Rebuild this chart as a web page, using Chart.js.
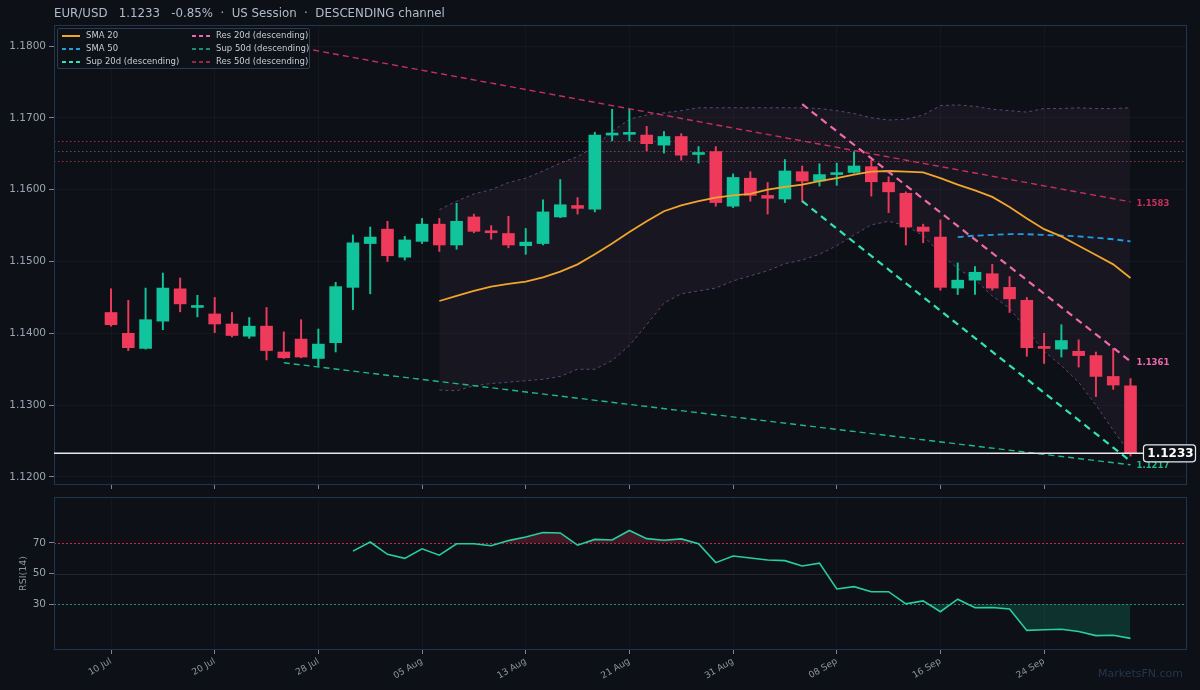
<!DOCTYPE html>
<html>
<head>
<meta charset="utf-8">
<script src="https://cdn.jsdelivr.net/npm/chart.js@4.4.1/dist/chart.umd.min.js"></script>
<style>
  body { margin: 0; background: #0d1017; font-family: "DejaVu Sans", sans-serif; }
  #wrap { position: relative; width: 1200px; height: 690px; overflow: hidden; background: #0d1017; }
  #main { position: absolute; left: 0; top: 0; }
  #rsi { position: absolute; left: 0; top: 492px; }
  #title { position: absolute; left: 54px; top: 6px; font-size: 11.8px; color: #b0bccb; white-space: pre; }
  #legend { position: absolute; left: 57px; top: 28px; width: 251px; height: 39px; background: rgba(13,18,26,0.92);
            border: 1px solid #2a3b50; border-radius: 2px; display: grid; grid-template-columns: 130px 1fr;
            font-size: 8.5px; line-height: 13px; color: #c4ccd6; white-space: nowrap; }
  #legend .li { display: flex; align-items: center; padding-left: 4px; }
  #legend svg { margin-right: 6px; flex: none; }
  #wm { position: absolute; right: 17px; top: 667px; font-size: 11px; color: #24364c; }
</style>
</head>
<body>
<div id="wrap">
  <canvas id="main" width="1200" height="492"></canvas>
  <canvas id="rsi" width="1200" height="198"></canvas>
  <div id="title">EUR/USD   1.1233   -0.85%  ·  US Session  ·  DESCENDING channel</div>
  <div id="legend"></div>
  <div id="wm">MarketsFN.com</div>
</div>
<script>
// --- Données ---
const firstDay = new Date(2020, 6, 10);
const nbCandles = 60;
const monthNames = ['Jan','Feb','Mar','Apr','May','Jun','Jul','Aug','Sep','Oct','Nov','Dec'];

const openP = [1.1429,1.1400,1.1379,1.1417,1.1462,1.1436,1.1427,1.1413,1.1396,1.1410,
               1.1374,1.1392,1.1365,1.1387,1.1464,1.1525,1.1545,1.1506,1.1528,1.1552,
               1.1523,1.1562,1.1542,1.1539,1.1522,1.1525,1.1562,1.1578,1.1573,1.1676,
               1.1677,1.1676,1.1662,1.1674,1.1649,1.1653,1.1577,1.1616,1.1592,1.1587,
               1.1625,1.1612,1.1621,1.1624,1.1632,1.1610,1.1595,1.1548,1.1534,1.1463,
               1.1474,1.1483,1.1464,1.1446,1.1381,1.1378,1.1375,1.1369,1.1340,1.1327];
const highP = [1.1462,1.1446,1.1463,1.1484,1.1477,1.1453,1.1450,1.1429,1.1422,1.1436,
               1.1402,1.1419,1.1406,1.1471,1.1537,1.1548,1.1556,1.1535,1.1560,1.1560,
               1.1581,1.1566,1.1550,1.1563,1.1546,1.1586,1.1614,1.1589,1.1680,1.1712,
               1.1712,1.1688,1.1681,1.1678,1.1660,1.1660,1.1622,1.1625,1.1610,1.1642,
               1.1633,1.1636,1.1637,1.1653,1.1641,1.1618,1.1597,1.1552,1.1558,1.1498,
               1.1493,1.1496,1.1479,1.1450,1.1400,1.1412,1.1391,1.1374,1.1379,1.1337];
const lowP  = [1.1410,1.1376,1.1378,1.1405,1.1430,1.1423,1.1401,1.1395,1.1393,1.1363,
               1.1365,1.1366,1.1354,1.1374,1.1433,1.1455,1.1500,1.1502,1.1525,1.1514,
               1.1517,1.1540,1.1531,1.1519,1.1510,1.1523,1.1561,1.1566,1.1569,1.1668,
               1.1668,1.1654,1.1651,1.1641,1.1637,1.1577,1.1575,1.1584,1.1566,1.1582,
               1.1583,1.1605,1.1606,1.1623,1.1591,1.1568,1.1523,1.1526,1.1460,1.1454,
               1.1454,1.1460,1.1429,1.1368,1.1358,1.1367,1.1353,1.1312,1.1322,1.1229];
const closeP = [1.1412,1.1380,1.1419,1.1463,1.1441,1.1438,1.1413,1.1397,1.1410,1.1376,
                1.1366,1.1367,1.1385,1.1465,1.1526,1.1534,1.1508,1.1530,1.1552,1.1523,
                1.1556,1.1542,1.1540,1.1523,1.1527,1.1569,1.1579,1.1574,1.1676,1.1678,
                1.1679,1.1664,1.1674,1.1648,1.1651,1.1582,1.1617,1.1592,1.1588,1.1626,
                1.1612,1.1621,1.1623,1.1633,1.1611,1.1597,1.1548,1.1542,1.1464,1.1474,
                1.1485,1.1463,1.1448,1.1380,1.1379,1.1390,1.1369,1.1340,1.1328,1.1233];

// moyennes mobiles et bandes (début = index de la première valeur)
const sma20Start = 19;
const sma20 = [1.1445,1.1452,1.1459,1.1465,1.1469,1.1472,1.1478,1.1486,1.1496,1.1510,
               1.1525,1.1541,1.1556,1.1570,1.1578,1.1584,1.1589,1.1592,1.1594,1.1600,
               1.1604,1.1607,1.1612,1.1616,1.1621,1.1625,1.1626,1.1625,1.1624,1.1616,
               1.1607,1.1599,1.1590,1.1576,1.1560,1.1545,1.1535,1.1522,1.1509,1.1496,1.1477];
const sma50Start = 49;
const sma50 = [1.1534,1.1536,1.1537,1.1538,1.1538,1.1537,1.1536,1.1535,1.1533,1.1531,1.1528];
const bbStart = 19;
const bbUpper = [1.1572,1.1584,1.1594,1.1600,1.1610,1.1616,1.1626,1.1637,1.1646,1.1660,
                 1.1681,1.1698,1.1704,1.1707,1.1710,1.1714,1.1714,1.1714,1.1714,1.1714,
                 1.1714,1.1714,1.1713,1.1710,1.1706,1.1700,1.1697,1.1698,1.1704,1.1717,
                 1.1718,1.1716,1.1712,1.1710,1.1708,1.1713,1.1713,1.1714,1.1713,1.1713,1.1714];
const bbLower = [1.1321,1.1320,1.1327,1.1330,1.1332,1.1334,1.1336,1.1340,1.1350,1.1350,
                 1.1362,1.1383,1.1412,1.1442,1.1455,1.1459,1.1463,1.1473,1.1480,1.1487,
                 1.1497,1.1502,1.1510,1.1522,1.1537,1.1551,1.1556,1.1550,1.1536,1.1511,
                 1.1490,1.1475,1.1452,1.1435,1.1405,1.1375,1.1355,1.1332,1.1300,1.1265,1.1232];

// lignes de canal
const chNames  = ['Res 50d (descending)', 'Sup 50d (descending)', 'Res 20d (descending)', 'Sup 20d (descending)'];
const chFromX  = [10, 10, 40, 40];
const chToX    = [59, 59, 59, 59];
const chFromY  = [1.1802, 1.1359, 1.1719, 1.1584];
const chToY    = [1.1583, 1.1217, 1.1361, 1.1222];
const chColors = ['#c5305f', '#1db985', '#f06aab', '#2fe3b5'];
const chWidths = [1.4, 1.4, 2.2, 2.2];
const chDash   = [[6, 4], [6, 4], [7, 5], [7, 5]];
const chLabel  = [true, true, true, false];

// niveaux horizontaux en pointillés
const levels = [1.1668, 1.1654, 1.1640];
const levelColors = ['rgba(200,70,85,0.7)', 'rgba(180,110,100,0.6)', 'rgba(200,70,85,0.7)'];
const lastPrice = 1.1233;

// RSI
const rsiStart = 14;
const rsi = [64.6,70.6,62.5,59.9,66.1,62.0,69.4,69.4,68.1,71.5,73.9,76.8,76.5,68.5,72.3,
             71.9,78.1,72.8,71.7,72.6,69.4,57.1,61.4,60.1,58.8,58.4,54.9,56.8,39.9,41.4,
             38.1,38.1,30.2,32.1,25.0,33.2,27.6,27.8,26.8,12.8,13.2,13.6,12.1,9.4,9.6,7.6];
const rsiLevels = [70, 50, 30];
const rsiLevelColors = ['rgba(225,55,80,0.8)', 'rgba(255,255,255,0.09)', 'rgba(32,190,150,0.75)'];

// ticks
const yTicks = [1.12, 1.13, 1.14, 1.15, 1.16, 1.17, 1.18];
const rsiTicks = [30, 50, 70];
const xTickIdx = [0, 6, 12, 18, 24, 30, 36, 42, 48, 54];

// legende
const legendNames  = ['SMA 20', 'Res 20d (descending)', 'SMA 50', 'Sup 50d (descending)', 'Sup 20d (descending)', 'Res 50d (descending)'];
const legendColors = ['#f2a52b', '#f06aab', '#1e9fe3', '#1db985', '#2fe3b5', '#c5305f'];
const legendDash   = ['', '4,3', '4,3', '4,3', '4,3', '4,3'];
const legendWidth  = [2, 2, 1.8, 1.4, 2, 1.4];

// --- Dates (jours ouvrés) ---
const dates = [];
let d = new Date(firstDay);
while (dates.length < nbCandles) {
    if (d.getDay() !== 0 && d.getDay() !== 6) {
        dates.push(String(d.getDate()).padStart(2, '0') + ' ' + monthNames[d.getMonth()]);
    }
    d.setDate(d.getDate() + 1);
}

// --- Styles ---
const GREEN = '#10c49b';
const RED = '#ef3a5c';
const FONT = 'DejaVu Sans';
const xMin = -3.3, xMax = 62.27;
Chart.defaults.font.family = FONT;

const candleColor = openP.map((o, i) => closeP[i] >= o ? GREEN : RED);
const series = (arr, start) => arr.map((v, k) => ({ x: start + k, y: v }));

// legende HTML
const legendEl = document.getElementById('legend');
legendNames.forEach((name, k) => {
    const item = document.createElement('div');
    item.className = 'li';
    item.innerHTML = `<svg width="18" height="6"><line x1="0" y1="3" x2="18" y2="3" stroke="${legendColors[k]}" stroke-width="${legendWidth[k]}" stroke-dasharray="${legendDash[k]}"/></svg><span>${name}</span>`;
    legendEl.appendChild(item);
});

// --- Plugin de décor du graphique principal ---
const mainDeco = {
    id: 'mainDeco',
    beforeDatasetsDraw(chart) {
        const { ctx, chartArea: a, scales: { y } } = chart;
        ctx.save();
        ctx.lineWidth = 1;
        ctx.setLineDash([1.5, 2.5]);
        levels.forEach((v, k) => {
            const py = Math.round(y.getPixelForValue(v)) + 0.5;
            ctx.strokeStyle = levelColors[k];
            ctx.beginPath(); ctx.moveTo(a.left, py); ctx.lineTo(a.right, py); ctx.stroke();
        });
        ctx.restore();
    },
    afterDatasetsDraw(chart) {
        const { ctx, chartArea: a, scales: { x, y } } = chart;
        ctx.save();
        // cadre
        ctx.strokeStyle = '#1f3550';
        ctx.lineWidth = 1;
        ctx.strokeRect(a.left + 0.5, a.top + 0.5, a.right - a.left - 1, a.bottom - a.top - 1);

        // étiquettes des canaux
        ctx.font = `bold 8.5px "${FONT}"`;
        ctx.textBaseline = 'middle';
        ctx.textAlign = 'left';
        chNames.forEach((n, k) => {
            if (!chLabel[k]) return;
            ctx.fillStyle = chColors[k];
            ctx.fillText(chToY[k].toFixed(4), x.getPixelForValue(chToX[k]) + 6, y.getPixelForValue(chToY[k]) + 1.5);
        });

        // dernier prix
        const py = y.getPixelForValue(lastPrice);
        const bx = x.getPixelForValue(nbCandles - 1) + 13;
        ctx.strokeStyle = '#e8e8e8';
        ctx.lineWidth = 1.6;
        ctx.beginPath(); ctx.moveTo(a.left, py); ctx.lineTo(bx, py); ctx.stroke();
        ctx.fillStyle = '#0d1117';
        ctx.strokeStyle = '#e8e8e8';
        ctx.lineWidth = 1.2;
        ctx.beginPath();
        ctx.roundRect(bx, py - 8.5, 52, 17, 3);
        ctx.fill(); ctx.stroke();
        ctx.fillStyle = '#ffffff';
        ctx.font = `bold 12px "${FONT}"`;
        ctx.textAlign = 'center';
        ctx.fillText(lastPrice.toFixed(4), bx + 27, py + 1);
        ctx.restore();
    }
};

const rsiDeco = {
    id: 'rsiDeco',
    beforeDatasetsDraw(chart) {
        const { ctx, chartArea: a, scales: { y } } = chart;
        ctx.save();
        ctx.lineWidth = 1;
        rsiLevels.forEach((v, k) => {
            const py = Math.round(y.getPixelForValue(v)) + 0.5;
            ctx.setLineDash(v === 50 ? [] : [2, 2]);
            ctx.strokeStyle = rsiLevelColors[k];
            ctx.beginPath(); ctx.moveTo(a.left, py); ctx.lineTo(a.right, py); ctx.stroke();
        });
        ctx.restore();
    },
    afterDatasetsDraw(chart) {
        const { ctx, chartArea: a } = chart;
        ctx.save();
        ctx.strokeStyle = '#1f3550';
        ctx.lineWidth = 1;
        ctx.strokeRect(a.left + 0.5, a.top + 0.5, a.right - a.left - 1, a.bottom - a.top - 1);
        ctx.translate(24, (a.top + a.bottom) / 2);
        ctx.rotate(-Math.PI / 2);
        ctx.fillStyle = '#8b95a1';
        ctx.font = `9.5px "${FONT}"`;
        ctx.textAlign = 'center';
        ctx.textBaseline = 'middle';
        ctx.fillText('RSI(14)', 0, 0);
        ctx.restore();
    }
};

// --- Jeux de données du graphique principal ---
const mainDatasets = [];
chNames.forEach((n, k) => {
    mainDatasets.push({
        type: 'line', label: n,
        data: [{ x: chFromX[k], y: chFromY[k] }, { x: chToX[k], y: chToY[k] }],
        borderColor: chColors[k], borderWidth: chWidths[k], borderDash: chDash[k],
        pointRadius: 0, fill: false, order: 1
    });
});
mainDatasets.push({
    type: 'line', label: 'SMA 20', data: series(sma20, sma20Start),
    borderColor: '#f2a52b', borderWidth: 1.8, pointRadius: 0, tension: 0, fill: false, order: 2
});
mainDatasets.push({
    type: 'line', label: 'SMA 50', data: series(sma50, sma50Start),
    borderColor: '#1e9fe3', borderWidth: 1.8, borderDash: [6, 4], pointRadius: 0, tension: 0, fill: false, order: 2
});
mainDatasets.push({
    type: 'bar', label: 'bodies',
    data: openP.map((o, i) => ({ x: i, y: [o, closeP[i]] })),
    backgroundColor: candleColor, barThickness: 12, minBarLength: 2, grouped: false, order: 3
});
mainDatasets.push({
    type: 'bar', label: 'wicks',
    data: lowP.map((l, i) => ({ x: i, y: [l, highP[i]] })),
    backgroundColor: candleColor, barThickness: 1.3, grouped: false, order: 4
});
mainDatasets.push({
    type: 'line', label: 'BB upper', data: series(bbUpper, bbStart),
    borderColor: 'rgba(150,100,175,0.6)', borderWidth: 1, borderDash: [3, 3], pointRadius: 0, tension: 0,
    fill: '+1', backgroundColor: 'rgba(160,115,175,0.07)', order: 5
});
mainDatasets.push({
    type: 'line', label: 'BB lower', data: series(bbLower, bbStart),
    borderColor: 'rgba(150,100,175,0.6)', borderWidth: 1, borderDash: [3, 3], pointRadius: 0, tension: 0,
    fill: false, order: 5
});

const tickFont = { family: FONT, size: 10.5 };
const axisText = '#9aa4b1';
const gridFaint = 'rgba(255,255,255,0.03)';

// hauteur/largeur fixes des axes, sans marge supplémentaire
const fixX = h => s => { s.height = h; s.paddingLeft = 0; s.paddingRight = 0; };
const fixY = s => { s.width = 54; s.paddingTop = 0; s.paddingBottom = 0; };

new Chart(document.getElementById('main'), {
    type: 'bar',
    data: { datasets: mainDatasets },
    options: {
        responsive: false, animation: false,
        layout: { padding: { top: 25, right: 13, left: 0, bottom: 0 } },
        plugins: { legend: { display: false }, tooltip: { enabled: false } },
        scales: {
            x: {
                type: 'linear', min: xMin, max: xMax, offset: false,
                afterBuildTicks: s => { s.ticks = xTickIdx.map(v => ({ value: v })); },
                ticks: { callback: () => '' },
                grid: { offset: false, color: gridFaint, tickColor: '#7d8794', tickLength: 4 },
                border: { display: false },
                afterFit: fixX(7)
            },
            y: {
                type: 'linear', min: 1.118886, max: 1.182924,
                afterBuildTicks: s => { s.ticks = yTicks.map(v => ({ value: v })); },
                ticks: { callback: v => v.toFixed(4), color: axisText, font: tickFont, padding: 3 },
                grid: { color: gridFaint, tickColor: '#7d8794', tickLength: 5 },
                border: { display: false },
                afterFit: fixY
            }
        }
    },
    plugins: [mainDeco]
});

// --- RSI ---
new Chart(document.getElementById('rsi'), {
    type: 'line',
    data: {
        datasets: [
            {
                label: 'RSI(14)', data: series(rsi, rsiStart),
                borderColor: '#27cfa0', borderWidth: 1.6, pointRadius: 0, tension: 0,
                fill: { target: { value: 70 }, above: 'rgba(200,45,80,0.28)', below: 'rgba(0,0,0,0)' }, order: 1
            },
            {
                label: 'RSI oversold', data: series(rsi, rsiStart),
                borderWidth: 0, borderColor: 'rgba(0,0,0,0)', pointRadius: 0, tension: 0,
                fill: { target: { value: 30 }, above: 'rgba(0,0,0,0)', below: 'rgba(20,165,125,0.24)' }, order: 2
            }
        ]
    },
    options: {
        responsive: false, animation: false,
        layout: { padding: { top: 5, right: 13, left: 0, bottom: 0 } },
        plugins: { legend: { display: false }, tooltip: { enabled: false } },
        scales: {
            x: {
                type: 'linear', min: xMin, max: xMax, offset: false,
                afterBuildTicks: s => { s.ticks = xTickIdx.map(v => ({ value: v })); },
                ticks: { callback: v => dates[v] || '', color: '#8b95a1', font: { family: FONT, size: 9 },
                         minRotation: 30, maxRotation: 30, autoSkip: false, padding: 2 },
                grid: { offset: false, color: gridFaint, tickColor: '#7d8794', tickLength: 4 },
                border: { display: false },
                afterFit: fixX(40)
            },
            y: {
                type: 'linear', min: 0, max: 100,
                afterBuildTicks: s => { s.ticks = rsiTicks.map(v => ({ value: v })); },
                ticks: { color: axisText, font: tickFont, padding: 3 },
                grid: { drawOnChartArea: false, tickColor: '#7d8794', tickLength: 5 },
                border: { display: false },
                afterFit: fixY
            }
        }
    },
    plugins: [rsiDeco]
});
</script>
</body>
</html>
